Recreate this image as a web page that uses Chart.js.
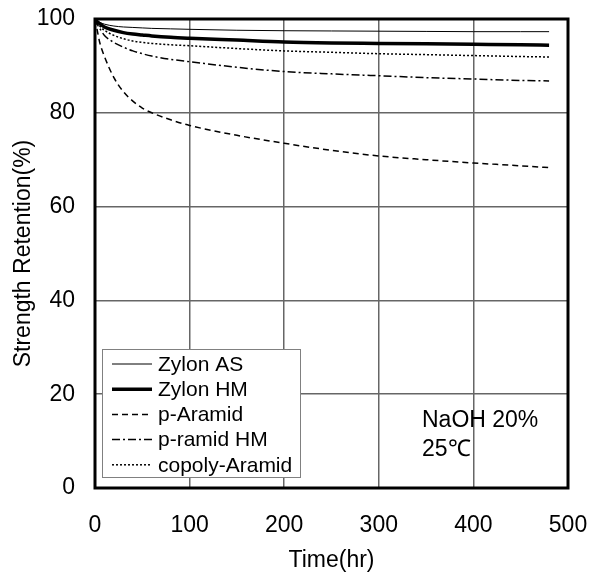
<!DOCTYPE html>
<html>
<head>
<meta charset="utf-8">
<script src="https://cdn.jsdelivr.net/npm/chart.js@4"></script>
<style>
  html, body { margin: 0; padding: 0; background: #fff; }
  #wrap { width: 590px; height: 574px; }
</style>
</head>
<body>
<div id="wrap"><canvas id="retentionChart" width="590" height="574"></canvas></div>
<script>
// time (hr)
var hours = [0, 2, 5, 10, 20, 30, 40, 50, 60, 80, 100, 150, 200, 250, 300, 350, 400, 450, 480];

// strength retention (%)
var zylonAS   = [100, 99.7, 99.3, 98.9, 98.5, 98.3, 98.2, 98.1, 98.0, 97.9, 97.8, 97.6, 97.5, 97.45, 97.4, 97.35, 97.3, 97.3, 97.3];
var zylonHM   = [100, 99.5, 99.0, 98.3, 97.6, 97.1, 96.8, 96.6, 96.4, 96.1, 95.9, 95.5, 95.1, 94.9, 94.8, 94.7, 94.6, 94.5, 94.4];
var pAramid   = [100, 98.0, 95.0, 92.0, 87.5, 84.5, 82.5, 81.0, 80.0, 78.5, 77.3, 75.2, 73.5, 72.0, 70.8, 70.0, 69.3, 68.7, 68.3];
var pAramidHM = [100, 99.0, 98.0, 96.5, 95.0, 94.0, 93.2, 92.6, 92.1, 91.4, 90.9, 89.7, 88.8, 88.3, 87.9, 87.5, 87.2, 86.9, 86.8];
var copoly    = [100, 99.3, 98.5, 97.6, 96.5, 95.8, 95.3, 95.0, 94.8, 94.5, 94.3, 93.7, 93.2, 92.9, 92.6, 92.4, 92.2, 92.0, 91.9];

var seriesNames = ['Zylon AS', 'Zylon HM', 'p-Aramid', 'p-ramid HM', 'copoly-Aramid'];
var xTicks = [0, 100, 200, 300, 400, 500];
var yTicks = [0, 20, 40, 60, 80, 100];
var noteLines = ['NaOH 20%', '25\u2103'];

var FONT = "'Liberation Sans', Arial, sans-serif";

function pts(arr) {
	return hours.map(function (h, i) { return { x: h, y: arr[i] }; });
}

function makeSet(label, arr, width, dash) {
	return {
		label: label,
		data: pts(arr),
		borderColor: '#000',
		backgroundColor: '#000',
		borderWidth: width,
		borderDash: dash,
		pointRadius: 0,
		fill: false,
		cubicInterpolationMode: 'monotone'
	};
}

// legend box drawn inside the plot + frame + note text
var decorations = {
	id: 'decorations',
	afterDatasetsDraw: function (chart) {
		var ctx = chart.ctx;
		var area = chart.chartArea;
		ctx.save();

		// legend
		var bx = area.left + 7, by = area.bottom - 139, bw = 198, bh = 128;
		ctx.fillStyle = '#fff';
		ctx.fillRect(bx, by, bw, bh);
		ctx.strokeStyle = '#808080';
		ctx.lineWidth = 1;
		ctx.strokeRect(bx + 0.5, by + 0.5, bw, bh);

		ctx.font = '21px ' + FONT;
		ctx.textBaseline = 'middle';
		ctx.textAlign = 'left';
		chart.data.datasets.forEach(function (ds, i) {
			var ry = by + 15 + i * 25.2;
			ctx.beginPath();
			ctx.strokeStyle = '#000';
			ctx.lineWidth = ds.borderWidth;
			ctx.setLineDash(ds.borderDash || []);
			ctx.moveTo(bx + 10, ry);
			ctx.lineTo(bx + 50, ry);
			ctx.stroke();
			ctx.setLineDash([]);
			ctx.fillStyle = '#000';
			ctx.fillText(ds.label, bx + 56, ry + 1);
		});

		// note
		ctx.font = '23px ' + FONT;
		ctx.fillStyle = '#000';
		noteLines.forEach(function (t, i) {
			ctx.fillText(t, area.left + 327, area.bottom - 67 + i * 29);
		});

		// frame
		ctx.strokeStyle = '#000';
		ctx.lineWidth = 3;
		ctx.strokeRect(area.left, area.top, area.right - area.left, area.bottom - area.top);
		ctx.restore();
	}
};

var ctx = document.getElementById('retentionChart');
var chart = new Chart(ctx, {
	type: 'line',
	data: {
		datasets: [
			makeSet(seriesNames[0], zylonAS, 1, []),
			makeSet(seriesNames[1], zylonHM, 3.5, []),
			makeSet(seriesNames[2], pAramid, 1.5, [6, 4]),
			makeSet(seriesNames[3], pAramidHM, 1.5, [8, 3, 2, 3]),
			makeSet(seriesNames[4], copoly, 1.5, [2, 2])
		]
	},
	options: {
		responsive: false,
		animation: false,
		layout: { padding: { top: 19, right: 22, left: 0, bottom: 0 } },
		plugins: {
			legend: { display: false },
			tooltip: { enabled: false }
		},
		scales: {
			x: {
				type: 'linear',
				min: 0,
				max: 500,
				afterBuildTicks: function (s) { s.ticks = xTicks.map(function (v) { return { value: v }; }); },
				afterFit: function (s) { s.height = 86; s.paddingLeft = 0; s.paddingRight = 0; },
				grid: { color: '#666', lineWidth: 1.5, drawTicks: false },
				border: { display: false },
				ticks: { color: '#000', padding: 24, maxRotation: 0, font: { family: FONT, size: 23 } },
				title: { display: true, text: 'Time(hr)', color: '#000', padding: { top: 3, bottom: 0 }, font: { family: FONT, size: 23 } }
			},
			y: {
				min: 0,
				max: 100,
				afterBuildTicks: function (s) { s.ticks = yTicks.map(function (v) { return { value: v }; }); },
				afterFit: function (s) { s.width = 95; s.paddingTop = 0; s.paddingBottom = 0; },
				grid: { color: '#666', lineWidth: 1.5, drawTicks: false },
				border: { display: false },
				ticks: { color: '#000', padding: 20, font: { family: FONT, size: 23 } },
				title: { display: true, text: 'Strength Retention(%)', color: '#000', padding: { top: 10, bottom: 0 }, font: { family: FONT, size: 23 } }
			}
		}
	},
	plugins: [decorations]
});
</script>
</body>
</html>
